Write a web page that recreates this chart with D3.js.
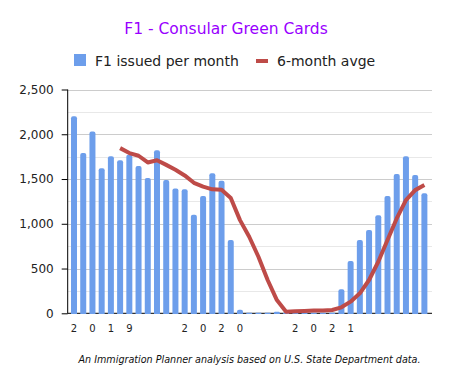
<!DOCTYPE html>
<html>
<head>
<meta charset="utf-8">
<script src="https://cdn.jsdelivr.net/npm/d3@7"></script>
<style>
  body { margin: 0; background: #fff; }
  text { font-family: "DejaVu Sans", sans-serif; }
</style>
</head>
<body>
<div class="chart"></div>
<script>
// month labels (one char per slot, like the original)
const xLabels = ["2","","0","","1","","9","","","","","",
                 "2","","0","","2","","0","","","","","",
                 "2","","0","","2","","1","","","","","","","",""];

// F1 issued per month, Jan 2019 .. Mar 2022
const issued = [2200,1790,2030,1620,1755,1710,1770,1645,1510,1820,1490,1395,
                1385,1100,1310,1565,1480,820,40,5,5,5,18,5,
                5,5,5,5,5,270,585,820,930,1095,1310,1555,1755,1545,1340];

// 6-month average (null until 6 months available)
const avg6 = [null,null,null,null,null,1845,1790,1760,1685,1710,1658,1603,
              1540,1458,1415,1385,1380,1288,1041,855,632,372,148,18,
              22,26,30,30,37,67,130,223,372,576,818,1060,1264,1376,1432];

const yTicks = [0,500,1000,1500,2000,2500];

const W = 451, H = 385;
const barColor = '#6d9eeb', lineColor = '#be4b48';

const svg = d3.select('.chart').append('svg')
    .attr('width', W)
    .attr('height', H);

const x = d3.scaleBand()
    .domain(d3.range(issued.length))
    .range([69.4, 429])
    .paddingInner(0.35)
    .paddingOuter(0.175);

const y = d3.scaleLinear()
    .domain([0, 2500])
    .range([313.3, 89.5]);

// gridlines (minor every 250, major every 500)
svg.append('g')
    .selectAll('line')
    .data(d3.range(250, 2501, 250))
    .join('line')
    .attr('x1', 68).attr('x2', 432)
    .attr('y1', d => Math.round(y(d)) + 0.5)
    .attr('y2', d => Math.round(y(d)) + 0.5)
    .attr('stroke', d => d % 500 === 0 ? '#cccccc' : '#e8e8e8')
    .attr('stroke-width', 1);

// baseline
svg.append('line')
    .attr('x1', 68).attr('x2', 432)
    .attr('y1', y(0)).attr('y2', y(0))
    .attr('stroke', '#333').attr('stroke-width', 1.2);

// bars with rounded tops
const r = 2;
svg.append('g')
    .selectAll('path')
    .data(issued)
    .join('path')
    .attr('fill', barColor)
    .attr('d', (d, i) => {
        const x0 = x(i), w = x.bandwidth();
        const y0 = y(0) + 0.8, y1 = y(d);
        const rr = Math.min(r, (y0 - y1) / 2);
        return `M${x0},${y0} V${y1 + rr} Q${x0},${y1} ${x0 + rr},${y1} H${x0 + w - rr} Q${x0 + w},${y1} ${x0 + w},${y1 + rr} V${y0} Z`;
    });

// 6-month average line
const line = d3.line()
    .defined(d => d != null)
    .x((d, i) => x(i) + x.bandwidth() / 2)
    .y(d => y(d));

svg.append('path')
    .datum(avg6)
    .attr('fill', 'none')
    .attr('stroke', lineColor)
    .attr('stroke-width', 4)
    .attr('stroke-linejoin', 'round')
    .attr('d', line);

// y axis
const yAxis = svg.append('g')
    .attr('transform', 'translate(67.7,0)')
    .call(d3.axisLeft(y).tickValues(yTicks).tickSize(6).tickPadding(8).tickFormat(d3.format(',')));
yAxis.select('.domain').attr('d', `M0,${y(2500)}V${y(0) + 0.5}`).attr('stroke', '#000');
yAxis.selectAll('.tick line').attr('stroke', '#000');
yAxis.selectAll('.tick text')
    .attr('font-family', '"DejaVu Sans", sans-serif')
    .attr('font-size', 12)
    .attr('fill', '#222');

// x labels
svg.append('g')
    .selectAll('text')
    .data(xLabels)
    .join('text')
    .attr('x', (d, i) => x(i) + x.bandwidth() / 2)
    .attr('y', 331.5)
    .attr('text-anchor', 'middle')
    .attr('font-size', 10)
    .attr('fill', '#222')
    .text(d => d);

// title
svg.append('text')
    .attr('x', 226).attr('y', 34)
    .attr('text-anchor', 'middle')
    .attr('font-family', '"Liberation Sans", Arial, sans-serif')
    .attr('font-size', 15.5)
    .attr('fill', '#9900ff')
    .text('F1 - Consular Green Cards');

// legend
const lg = svg.append('g');
lg.append('rect')
    .attr('x', 74).attr('y', 54).attr('width', 12).attr('height', 12)
    .attr('fill', barColor);
lg.append('text')
    .attr('x', 95).attr('y', 66)
    .attr('font-size', 14).attr('fill', '#222')
    .text('F1 issued per month');
lg.append('line')
    .attr('x1', 256).attr('x2', 268).attr('y1', 61).attr('y2', 61)
    .attr('stroke', lineColor).attr('stroke-width', 4);
lg.append('text')
    .attr('x', 277).attr('y', 66)
    .attr('font-size', 14).attr('fill', '#222')
    .text('6-month avge');

// source note
svg.append('text')
    .attr('x', 249.5).attr('y', 363)
    .attr('text-anchor', 'middle')
    .attr('font-family', '"Open Sans", sans-serif')
    .attr('font-style', 'italic')
    .attr('font-size', 9.6)
    .attr('fill', '#111')
    .text('An Immigration Planner analysis based on U.S. State Department data.');
</script>
</body>
</html>
